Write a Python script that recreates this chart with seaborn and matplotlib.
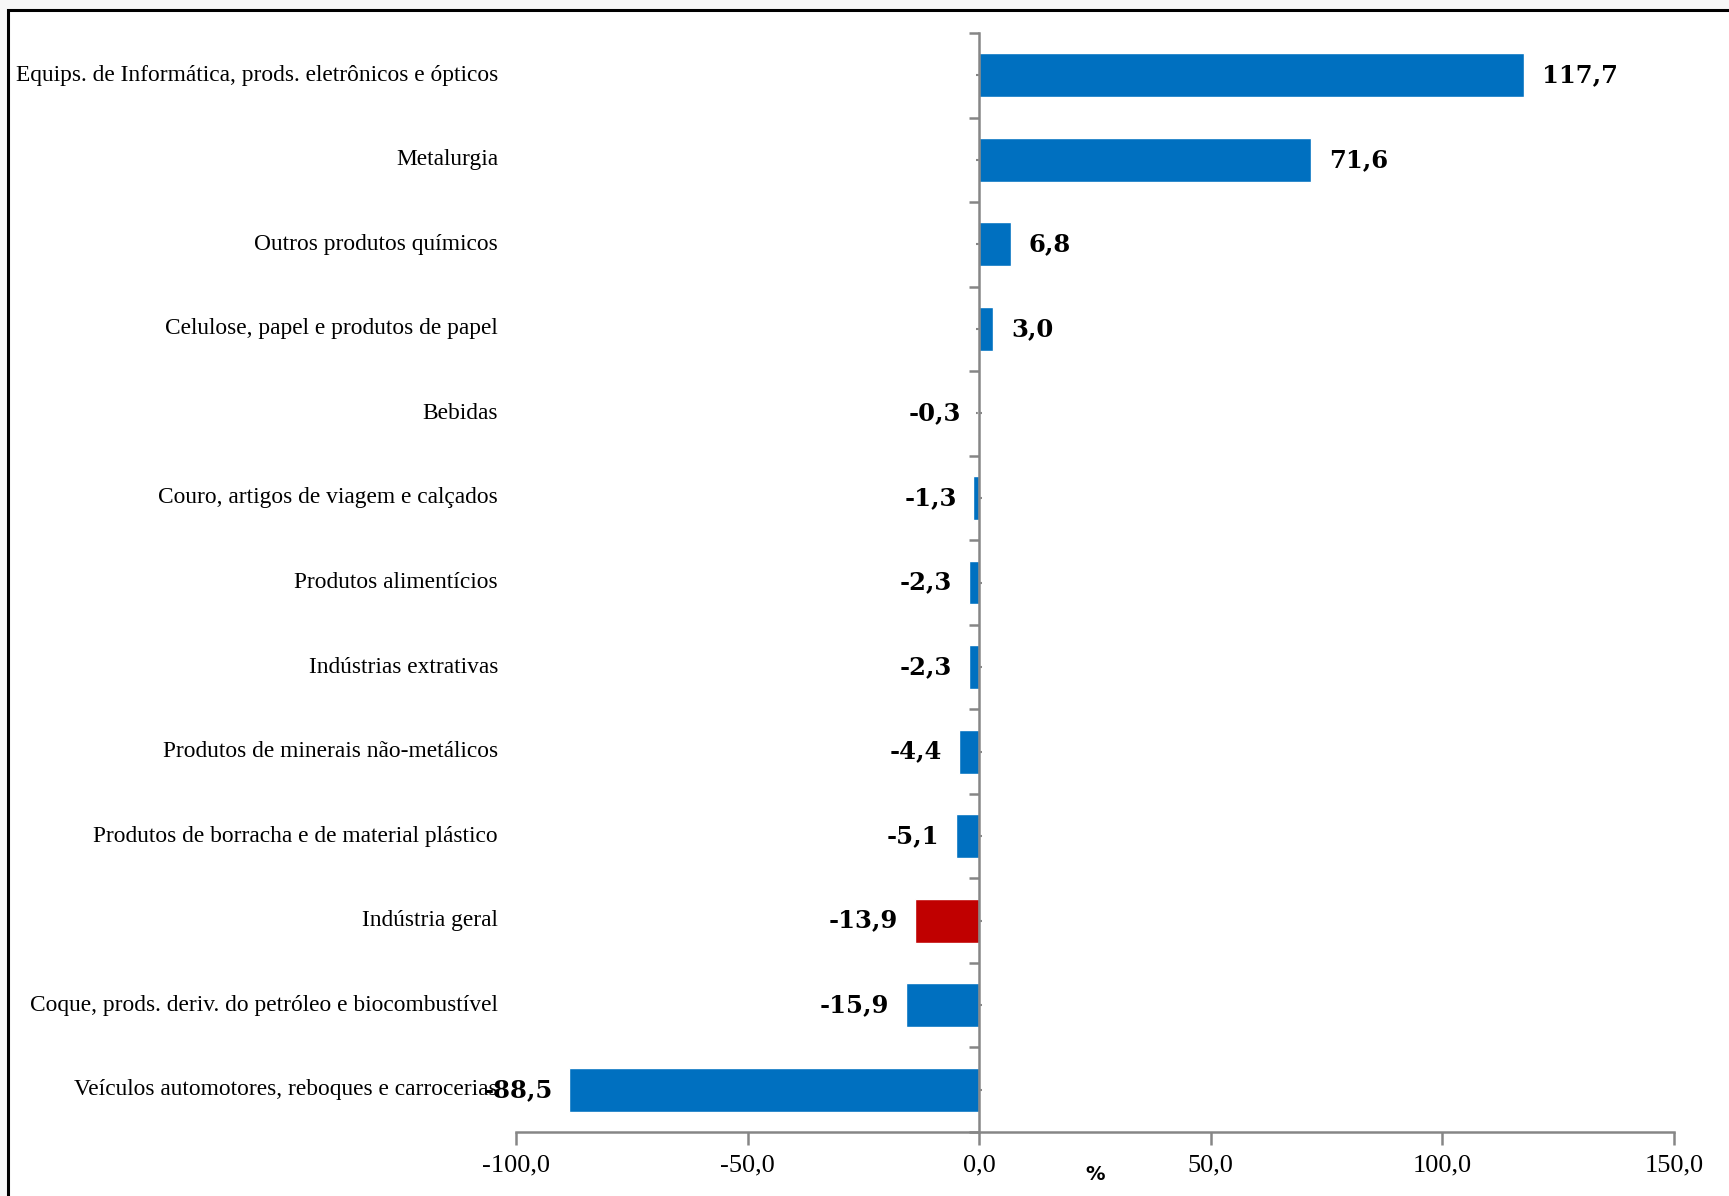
import matplotlib
matplotlib.use("Agg")
import matplotlib.pyplot as plt
import seaborn as sns
import pandas as pd
import numpy as np
from matplotlib.patches import Rectangle
from matplotlib.ticker import FixedLocator, FuncFormatter

categories = [
    "Equips. de Informática, prods. eletrônicos e ópticos",
    "Metalurgia",
    "Outros produtos químicos",
    "Celulose, papel e produtos de papel",
    "Bebidas",
    "Couro, artigos de viagem e calçados",
    "Produtos alimentícios",
    "Indústrias extrativas",
    "Produtos de minerais não-metálicos",
    "Produtos de borracha e de material plástico",
    "Indústria geral",
    "Coque, prods. deriv. do petróleo e biocombustível",
    "Veículos automotores, reboques e carrocerias",
]
values = [117.7, 71.6, 6.8, 3.0, -0.3, -1.3, -2.3, -2.3, -4.4, -5.1, -13.9, -15.9, -88.5]
highlight = ["Indústria geral"]
x_ticks = [-100, -50, 0, 50, 100, 150]

BLUE = "#0070C0"
RED = "#C00000"
GRAY = "#868686"

sns.set_theme(style="white")
plt.rcParams["font.family"] = ["Liberation Serif", "DejaVu Serif"]
plt.rcParams["text.color"] = "black"
plt.rcParams["xtick.labelcolor"] = "black"
plt.rcParams["axes.labelcolor"] = "black"

df = pd.DataFrame({"cat": categories, "val": values})
palette = {c: (RED if c in highlight else BLUE) for c in categories}

fig = plt.figure(figsize=(17.29, 11.96), dpi=100, facecolor="#f7f7f7")
frame = Rectangle((8 / 1729, -0.05), 1.1, 1 - 10 / 1196 + 0.05,
                  transform=fig.transFigure, facecolor="white",
                  edgecolor="black", linewidth=2.2, zorder=-10)
fig.patches.append(frame)
ax = fig.add_axes([516 / 1729, 1 - 1132 / 1196, (1674 - 516) / 1729, (1132 - 33) / 1196])
ax.set_zorder(5)
ax.patch.set_alpha(0)

sns.barplot(data=df, x="val", y="cat", hue="cat", palette=palette, order=categories,
            orient="h", width=0.52, legend=False, ax=ax, saturation=1)

ax.set_xlim(-100, 150)
ax.set_ylim(len(categories) - 0.5, -0.5)

for s in ["top", "right"]:
    ax.spines[s].set_visible(False)
ax.spines["left"].set_position(("data", 0))
ax.spines["left"].set_color(GRAY)
ax.spines["left"].set_linewidth(1.8)
ax.spines["bottom"].set_color(GRAY)
ax.spines["bottom"].set_linewidth(1.8)

ax.xaxis.set_major_locator(FixedLocator(x_ticks))
ax.xaxis.set_major_formatter(FuncFormatter(lambda v, p: f"{v:.1f}".replace(".", ",")))
ax.tick_params(axis="x", direction="out", length=9, width=1.8, color=GRAY,
               labelsize=19, pad=7, bottom=True, labelcolor="black")

n = len(categories)
ax.yaxis.set_major_locator(FixedLocator(np.arange(-0.5, n, 1.0)))
ax.yaxis.set_minor_locator(FixedLocator(np.arange(0, n, 1.0)))
ax.tick_params(axis="y", which="major", direction="out", length=7, width=1.8,
               color=GRAY, labelleft=False, left=True)
ax.tick_params(axis="y", which="minor", direction="inout", length=4, width=1.5,
               color=GRAY, labelleft=False, left=True)
ax.set_ylabel("")
ax.set_xlabel("%", fontsize=14, fontweight="bold", labelpad=-8,
              family=["DejaVu Sans"], color="black")

blend = matplotlib.transforms.blended_transform_factory(ax.transAxes, ax.transData)
for i, c in enumerate(categories):
    ax.text(-18 / 1158, i, c, transform=blend, ha="right", va="center",
            fontsize=16.8, color="black")

for i, v in enumerate(values):
    lbl = f"{v:.1f}".replace(".", ",")
    if v >= 0:
        ax.annotate(lbl, (v, i), xytext=(13, 0), textcoords="offset points",
                    ha="left", va="center", fontsize=17.5, fontweight="bold",
                    family=["DejaVu Serif"], color="black")
    else:
        ax.annotate(lbl, (v, i), xytext=(-12, 0), textcoords="offset points",
                    ha="right", va="center", fontsize=17.5, fontweight="bold",
                    family=["DejaVu Serif"], color="black")

fig.savefig("out.png", dpi=100, facecolor=fig.get_facecolor())
